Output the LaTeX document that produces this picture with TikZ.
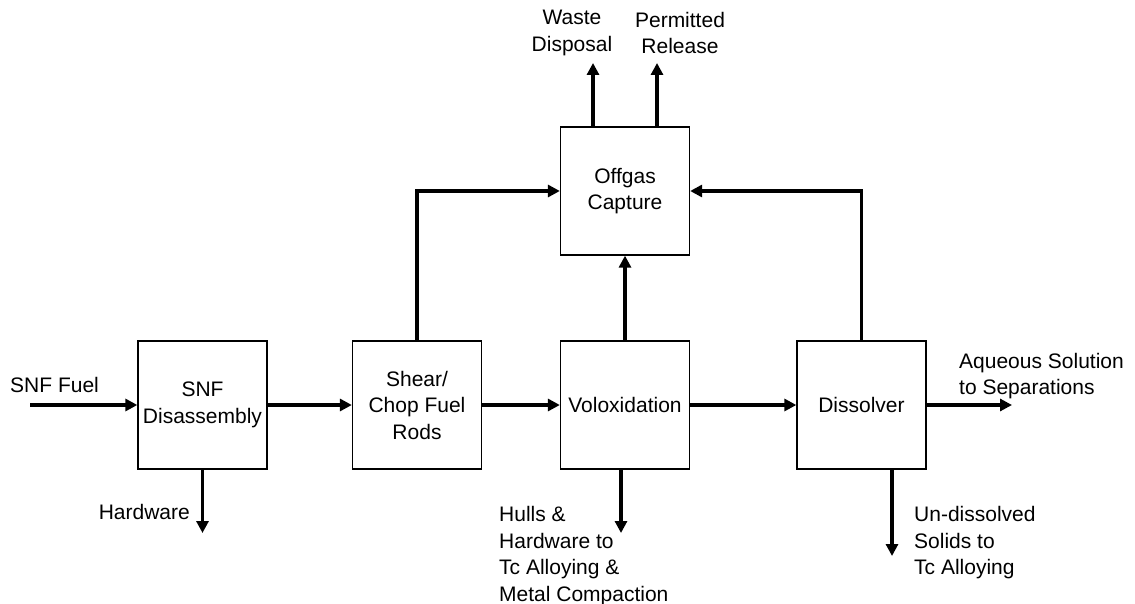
\documentclass[tikz,border=0pt]{standalone}
\usepackage{fontspec}
\setmainfont{Liberation Sans}
\usetikzlibrary{arrows.meta}
\begin{document}
\begin{tikzpicture}[x=1pt,y=-1pt,
  proc/.style={draw=black,line width=1.3pt,minimum width=129pt,minimum height=128pt,inner sep=0pt,align=center,font=\fontsize{21}{26.5}\selectfont},
  lbl/.style={inner sep=0pt,font=\fontsize{21}{26.5}\selectfont},
  flow/.style={line width=3.5pt,-{Triangle[length=12pt,width=12pt]}}]
\useasboundingbox (0,0) rectangle (1135,604);
\node[proc] (b1) at (202.5,405) {SNF\\Disassembly};
\node[proc] (b2) at (417,405) {Shear/\\Chop Fuel\\Rods};
\node[proc] (b3) at (625,405) {Voloxidation};
\node[proc] (b4) at (861.5,405) {Dissolver};
\node[proc] (off) at (625,191) {Offgas\\Capture};

\coordinate (fuelin) at (30,405);
\coordinate (hwend) at (202.5,533);
\coordinate (hullend) at (621,533);
\coordinate (undend) at (892,556);
\coordinate (aqend) at (1012,405);
\coordinate (wdend) at (593,63);
\coordinate (prend) at (657,63);

\node[lbl,anchor=west] (tfuel) at (10,385) {SNF Fuel};
\node[lbl,anchor=east] (thw) at (190,512) {Hardware};
\node[lbl,anchor=west,align=left] (thull) at (499,556) {Hulls \&\\Hardware to\\Tc Alloying \&\\Metal Compaction};
\node[lbl,anchor=west,align=left] (tund) at (914,543) {Un-dissolved\\Solids to\\Tc Alloying};
\node[lbl,anchor=west,align=left] (taq) at (959,376) {Aqueous Solution\\to Separations};
\node[lbl,align=center] (twd) at (572,33) {Waste\\Disposal};
\node[lbl,align=center] (tpr) at (680,33) {Permitted\\Release};

\draw[flow] (fuelin) -- (b1.west);
\draw[flow] (b1.east) -- (b2.west);
\draw[flow] (b2.east) -- (b3.west);
\draw[flow] (b3.east) -- (b4.west);
\draw[flow] (b4.east) -- (aqend);
\draw[flow] (b1.south) -- (hwend);
\draw[flow] ([xshift=-4pt]b3.south) -- (hullend);
\draw[flow] ([xshift=30.5pt]b4.south) -- (undend);
\draw[flow] (b3.north) -- (off.south);
\draw[flow] (b2.north) |- (off.west);
\draw[flow] (b4.north) |- (off.east);
\draw[flow] ([xshift=-32pt]off.north) -- (wdend);
\draw[flow] ([xshift=32pt]off.north) -- (prend);
\end{tikzpicture}
\end{document}
